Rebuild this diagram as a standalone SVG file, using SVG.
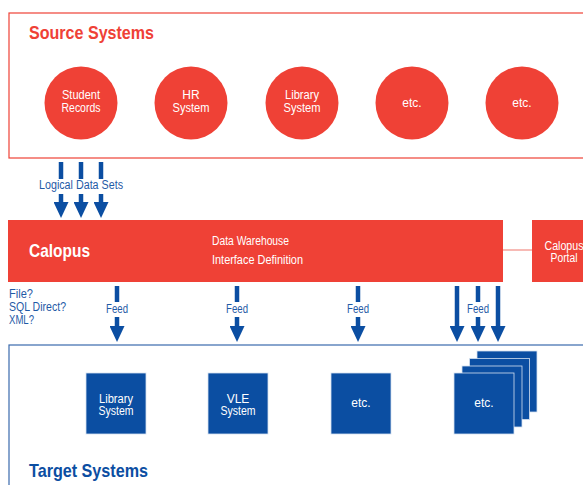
<svg xmlns="http://www.w3.org/2000/svg" width="583" height="485" viewBox="0 0 583 485">
<style>
.red{fill:#ef4136}
.blue{fill:#0b4ea2}
.wt{fill:#ffffff;font-family:"Liberation Sans",Arial,sans-serif;font-size:12px;text-anchor:middle}
.bt{fill:#1f5aa6;font-family:"Liberation Sans",Arial,sans-serif;font-size:12px}
.title{font-family:"Liberation Sans",Arial,sans-serif;font-weight:bold;font-size:19px}
.sq{fill:#0b4ea2;stroke:#d5e0ef;stroke-width:0.8}
.shaft{stroke:#0b4ea2;stroke-width:4.5;fill:none}
</style>
<defs>
<marker id="ah" markerUnits="userSpaceOnUse" viewBox="0 0 16 15" refX="0" refY="7.5" markerWidth="16" markerHeight="15" orient="auto">
<path d="M0,0 L16,7.5 L0,15 z" fill="#0b4ea2"/>
</marker>
</defs>
<rect width="583" height="485" fill="#ffffff"/>

<g id="source-systems">
<rect x="9" y="13" width="590" height="145" fill="none" stroke="#ef4136" stroke-width="1.2"/>
<text x="29" y="39" class="title" fill="#ef4136" textLength="125" lengthAdjust="spacingAndGlyphs">Source Systems</text>
</g>
<g id="student-records">
<ellipse cx="81" cy="103" rx="36.5" ry="36.5" class="red"/>
<text x="81" y="99" class="wt" textLength="38" lengthAdjust="spacingAndGlyphs">Student</text>
<text x="81" y="112" class="wt" textLength="39" lengthAdjust="spacingAndGlyphs">Records</text>
</g>
<g id="hr-system">
<ellipse cx="191" cy="103" rx="36.5" ry="36.5" class="red"/>
<text x="191" y="99" class="wt">HR</text>
<text x="191" y="112" class="wt" textLength="37" lengthAdjust="spacingAndGlyphs">System</text>
</g>
<g id="library-system-src">
<ellipse cx="302" cy="103" rx="36.5" ry="36.5" class="red"/>
<text x="302" y="99" class="wt" textLength="34" lengthAdjust="spacingAndGlyphs">Library</text>
<text x="302" y="112" class="wt" textLength="37" lengthAdjust="spacingAndGlyphs">System</text>
</g>
<g id="etc-src-1">
<ellipse cx="412" cy="103" rx="36.5" ry="36.5" class="red"/>
<text x="412" y="107" class="wt">etc.</text>
</g>
<g id="etc-src-2">
<ellipse cx="522" cy="103" rx="36.5" ry="36.5" class="red"/>
<text x="522" y="107" class="wt">etc.</text>
</g>

<g id="calopus">
<rect x="8" y="220" width="495" height="62" class="red"/>
<text x="29" y="257" class="title" font-size="19" fill="#ffffff" textLength="61" lengthAdjust="spacingAndGlyphs">Calopus</text>
<text x="212" y="245" class="wt" style="text-anchor:start" textLength="77" lengthAdjust="spacingAndGlyphs">Data Warehouse</text>
<text x="212" y="264" class="wt" style="text-anchor:start" textLength="91" lengthAdjust="spacingAndGlyphs">Interface Definition</text>
</g>
<g id="calopus-portal">
<rect x="532" y="220" width="70" height="62" class="red"/>
<text x="564" y="250" class="wt" textLength="39" lengthAdjust="spacingAndGlyphs">Calopus</text>
<text x="564" y="262" class="wt" textLength="27" lengthAdjust="spacingAndGlyphs">Portal</text>
</g>

<g id="target-systems">
<rect x="9" y="345" width="590" height="160" fill="none" stroke="#3a6aad" stroke-width="1.2"/>
<text x="29" y="477" class="title" fill="#0b4ea2" textLength="119" lengthAdjust="spacingAndGlyphs">Target Systems</text>
</g>
<g id="library-system-tgt">
<rect x="86" y="373" width="60" height="61" class="sq"/>
<text x="116" y="403" class="wt" textLength="34" lengthAdjust="spacingAndGlyphs">Library</text>
<text x="116" y="415" class="wt" textLength="35" lengthAdjust="spacingAndGlyphs">System</text>
</g>
<g id="vle-system">
<rect x="208" y="373" width="60" height="61" class="sq"/>
<text x="238" y="403" class="wt">VLE</text>
<text x="238" y="415" class="wt" textLength="35" lengthAdjust="spacingAndGlyphs">System</text>
</g>
<g id="etc-tgt-1">
<rect x="331" y="373" width="60" height="61" class="sq"/>
<text x="361" y="407" class="wt">etc.</text>
</g>
<g id="etc-tgt-stack">
<rect x="477" y="351" width="60" height="61" class="sq"/>
<rect x="469.5" y="358.5" width="60" height="61" class="sq"/>
<rect x="462" y="366" width="60" height="61" class="sq"/>
<rect x="454" y="373" width="60" height="61" class="sq"/>
<text x="484" y="407" class="wt">etc.</text>
</g>

<g id="connectors">
<line x1="503" y1="250" x2="532" y2="250" stroke="#f5a39c" stroke-width="1.5"/>
<line x1="61" y1="162" x2="61" y2="179" class="shaft"/>
<line x1="81" y1="162" x2="81" y2="179" class="shaft"/>
<line x1="101" y1="162" x2="101" y2="179" class="shaft"/>
<line x1="61" y1="194" x2="61" y2="202" class="shaft" marker-end="url(#ah)"/>
<line x1="81" y1="194" x2="81" y2="202" class="shaft" marker-end="url(#ah)"/>
<line x1="101" y1="194" x2="101" y2="202" class="shaft" marker-end="url(#ah)"/>
<text x="39" y="189" class="bt" textLength="84" lengthAdjust="spacingAndGlyphs">Logical Data Sets</text>

<line x1="117" y1="286" x2="117" y2="302" class="shaft"/>
<line x1="117" y1="317" x2="117" y2="326" class="shaft" marker-end="url(#ah)"/>
<text x="117" y="313" class="bt" text-anchor="middle" textLength="22" lengthAdjust="spacingAndGlyphs">Feed</text>
<line x1="237" y1="286" x2="237" y2="302" class="shaft"/>
<line x1="237" y1="317" x2="237" y2="326" class="shaft" marker-end="url(#ah)"/>
<text x="237" y="313" class="bt" text-anchor="middle" textLength="22" lengthAdjust="spacingAndGlyphs">Feed</text>
<line x1="358" y1="286" x2="358" y2="302" class="shaft"/>
<line x1="358" y1="317" x2="358" y2="326" class="shaft" marker-end="url(#ah)"/>
<text x="358" y="313" class="bt" text-anchor="middle" textLength="22" lengthAdjust="spacingAndGlyphs">Feed</text>
<line x1="457" y1="286" x2="457" y2="326" class="shaft" marker-end="url(#ah)"/>
<line x1="478" y1="286" x2="478" y2="302" class="shaft"/>
<line x1="478" y1="317" x2="478" y2="326" class="shaft" marker-end="url(#ah)"/>
<text x="478" y="313" class="bt" text-anchor="middle" textLength="22" lengthAdjust="spacingAndGlyphs">Feed</text>
<line x1="498" y1="286" x2="498" y2="326" class="shaft" marker-end="url(#ah)"/>

<text x="9" y="298" class="bt" textLength="24" lengthAdjust="spacingAndGlyphs">File?</text>
<text x="9" y="311" class="bt" textLength="57" lengthAdjust="spacingAndGlyphs">SQL Direct?</text>
<text x="9" y="324" class="bt" textLength="25" lengthAdjust="spacingAndGlyphs">XML?</text>
</g>
</svg>
